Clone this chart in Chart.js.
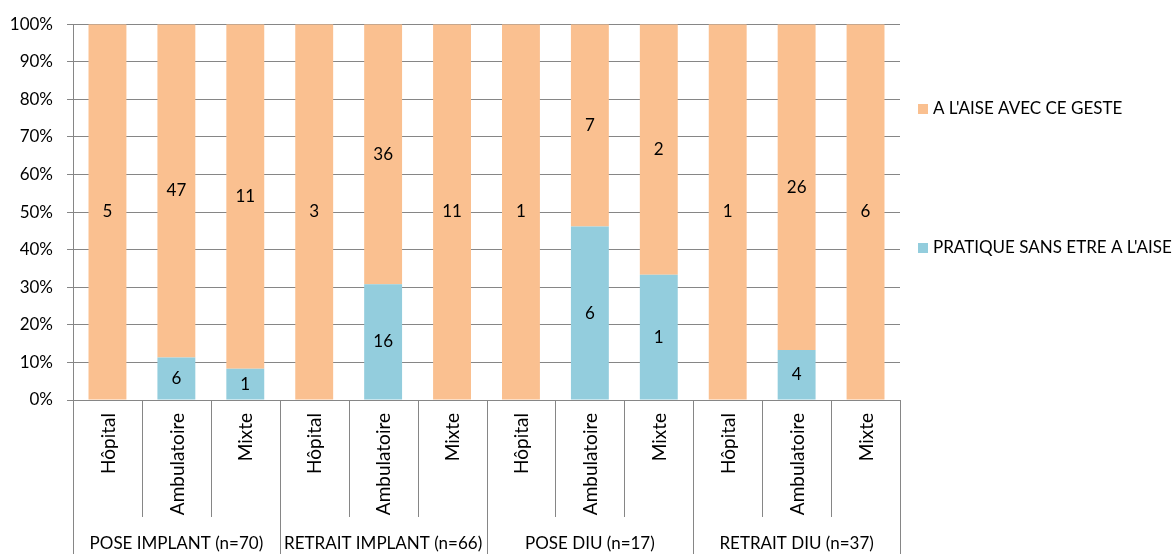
<!DOCTYPE html>
<html><head><meta charset="utf-8">
<script src="https://cdn.jsdelivr.net/npm/chart.js@4.4.1/dist/chart.umd.min.js"></script>
<style>html,body{margin:0;padding:0;background:#fff;}#wrap{width:1175px;height:554px;}</style>
</head><body><div id="wrap"><canvas id="c" width="1175" height="554"></canvas></div>
<script>
const categories = ["Hôpital","Ambulatoire","Mixte","Hôpital","Ambulatoire","Mixte","Hôpital","Ambulatoire","Mixte","Hôpital","Ambulatoire","Mixte"];
const groups = ["POSE IMPLANT (n=70)","RETRAIT IMPLANT (n=66)","POSE DIU (n=17)","RETRAIT DIU (n=37)"];
const seriesNames = ["PRATIQUE SANS ETRE A L'AISE","A L'AISE AVEC CE GESTE"];
const pratiqueCounts = [0,6,1, 0,16,0, 0,6,1, 0,4,0];
const aiseCounts = [5,47,11, 3,36,11, 1,7,2, 1,26,6];
const yTicks = [0,10,20,30,40,50,60,70,80,90,100];

const FONT = 'Lato, "Liberation Sans", sans-serif';
const FS = 17;
const totals = pratiqueCounts.map((v,i)=>v+aiseCounts[i]);
const pct = arr => arr.map((v,i)=> totals[i] ? v/totals[i]*100 : 0);
const counts = [pratiqueCounts, aiseCounts];
const colors = ['#93CDDD','#FAC090'];
const gridColor = '#868686';

const overlay = {
  id:'overlay',
  afterDatasetsDraw(chart){
    const ctx = chart.ctx;
    ctx.save();
    ctx.fillStyle = '#000';
    ctx.font = FS + 'px ' + FONT;
    ctx.textAlign = 'center';
    ctx.textBaseline = 'middle';
    counts.forEach((arr,di)=>{
      const meta = chart.getDatasetMeta(di);
      meta.data.forEach((el,i)=>{
        if(arr[i] > 0){
          ctx.fillText(String(arr[i]), el.x, (el.y + el.base)/2);
        }
      });
    });
    ctx.restore();
  },
  afterDraw(chart){
    const ctx = chart.ctx;
    const xs = chart.scales.x;
    const area = chart.chartArea;
    const n = categories.length;
    const w = (area.right - area.left)/n;
    ctx.save();
    ctx.strokeStyle = gridColor;
    ctx.lineWidth = 1;
    for(let k=0;k<=n;k++){
      const x = Math.round(area.left + k*w) + 0.5;
      const yEnd = (k % 3 === 0) ? 554 : 517;
      ctx.beginPath();
      ctx.moveTo(x, area.bottom);
      ctx.lineTo(x, yEnd);
      ctx.stroke();
    }
    ctx.fillStyle = '#000';
    ctx.font = '19px ' + FONT;
    categories.forEach((c,i)=>{
      const x = xs.getPixelForValue(i);
      ctx.save();
      ctx.translate(x + 1, area.bottom + 13);
      ctx.rotate(-Math.PI/2);
      ctx.textAlign = 'right';
      ctx.textBaseline = 'middle';
      ctx.fillText(c, 0, 0);
      ctx.restore();
    });
    ctx.font = FS + 'px ' + FONT;
    ctx.textAlign = 'center';
    ctx.textBaseline = 'middle';
    groups.forEach((g,gi)=>{
      const x = (xs.getPixelForValue(gi*3) + xs.getPixelForValue(gi*3+2))/2;
      ctx.fillText(g, x, 544);
    });
    // legend
    const legendY = [248, 109];
    seriesNames.forEach((s,i)=>{
      ctx.fillStyle = colors[i];
      ctx.fillRect(918, legendY[i]-5, 10, 10);
      ctx.fillStyle = '#000';
      ctx.textAlign = 'left';
      ctx.fillText(s, 933, legendY[i]);
    });
    ctx.restore();
  }
};

new Chart(document.getElementById('c'), {
  type:'bar',
  data:{
    labels: categories,
    datasets:[
      {label: seriesNames[0], data: pct(pratiqueCounts), backgroundColor: colors[0], categoryPercentage:1, barPercentage:0.55},
      {label: seriesNames[1], data: pct(aiseCounts), backgroundColor: colors[1], categoryPercentage:1, barPercentage:0.55}
    ]
  },
  options:{
    responsive:false,
    animation:false,
    layout:{padding:{top:22,right:275,bottom:154,left:0}},
    plugins:{legend:{display:false},tooltip:{enabled:false}},
    scales:{
      x:{stacked:true, display:false},
      y:{
        stacked:true, min:0, max:100,
        afterBuildTicks(scale){ scale.ticks = yTicks.map(v=>({value:v})); },
        afterFit(scale){ scale.width = 73; },
        ticks:{callback:v=>v+'%', color:'#000', font:{family:FONT,size:FS}, padding:14},
        grid:{color:gridColor, tickLength:6, drawTicks:true},
        border:{display:true, color:gridColor}
      }
    }
  },
  plugins:[overlay]
});
</script>
</body></html>
